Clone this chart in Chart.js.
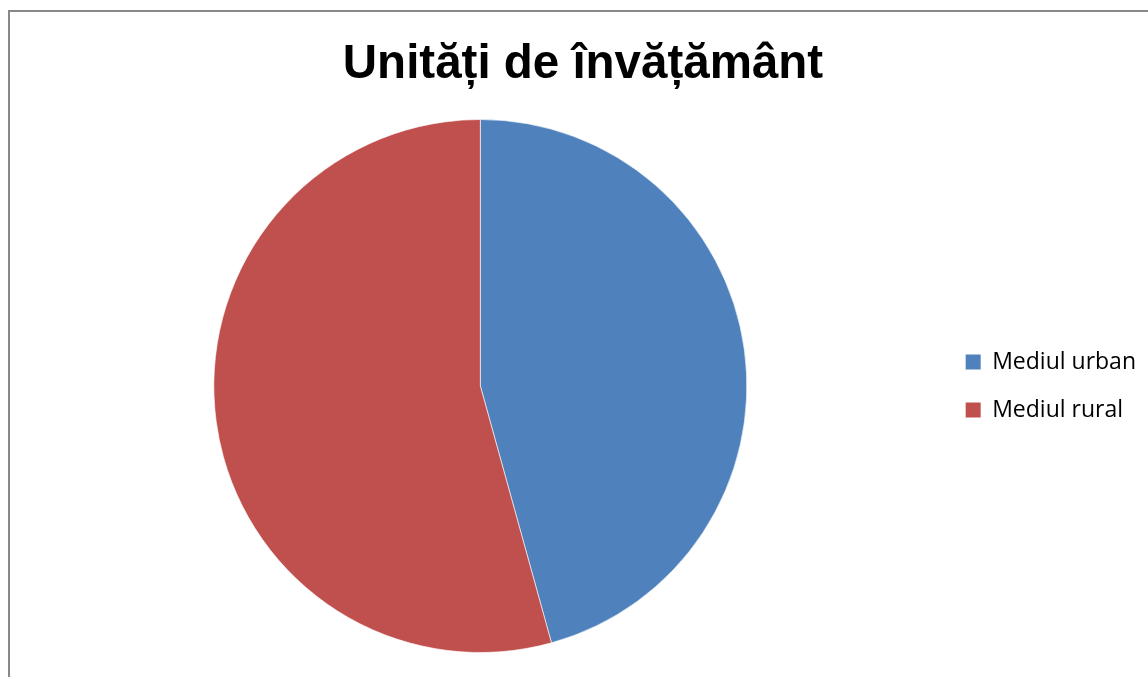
<!DOCTYPE html>
<html>
<head>
<meta charset="utf-8">
<script src="https://cdn.jsdelivr.net/npm/chart.js@4"></script>
<style>
    html, body { margin: 0; padding: 0; background: #fff; overflow: hidden; }
    #wrap { position: relative; width: 1148px; height: 677px; }
    #frame {
        position: absolute; left: 8px; top: 10px; width: 1160px; height: 700px;
        border-left: 2px solid #888; border-top: 2px solid #888;
    }
    #chart { position: absolute; left: 0; top: 0; }
</style>
</head>
<body>
<div id="wrap">
    <div id="frame"></div>
    <canvas id="chart" width="1148" height="677"></canvas>
</div>
<script>
// Data
const chartTitle = "Unități de învățământ";
const categories = ["Mediul urban", "Mediul rural"];
const values = [45.7, 54.3];
const sliceColors = ["#4F81BD", "#C0504D"];

document.addEventListener("DOMContentLoaded", () => {
    const canvas = document.getElementById("chart");
    const defaultLabels = Chart.overrides.pie.plugins.legend.labels.generateLabels;

    new Chart(canvas.getContext("2d"), {
        type: "pie",
        data: {
            labels: categories,
            datasets: [{
                data: values,
                backgroundColor: sliceColors,
                borderColor: "rgba(255,255,255,0.6)",
                borderWidth: 1
            }]
        },
        options: {
            responsive: false,
            animation: false,
            layout: { padding: { left: 20, right: 2, top: 0, bottom: 24 } },
            plugins: {
                tooltip: { enabled: false },
                title: {
                    display: true,
                    text: chartTitle,
                    color: "#000",
                    font: { family: "'Liberation Sans', Arial, sans-serif", size: 47.5, weight: "bold" },
                    padding: { top: 36, bottom: 26 }
                },
                legend: {
                    position: "right",
                    fullSize: false,
                    labels: {
                        color: "#000",
                        boxWidth: 15,
                        boxHeight: 15,
                        padding: 25,
                        font: { family: "'Open Sans', sans-serif", size: 23 },
                        generateLabels: chart => defaultLabels(chart).map(l => ({ ...l, lineWidth: 0 }))
                    }
                }
            }
        }
    });
});
</script>
</body>
</html>
